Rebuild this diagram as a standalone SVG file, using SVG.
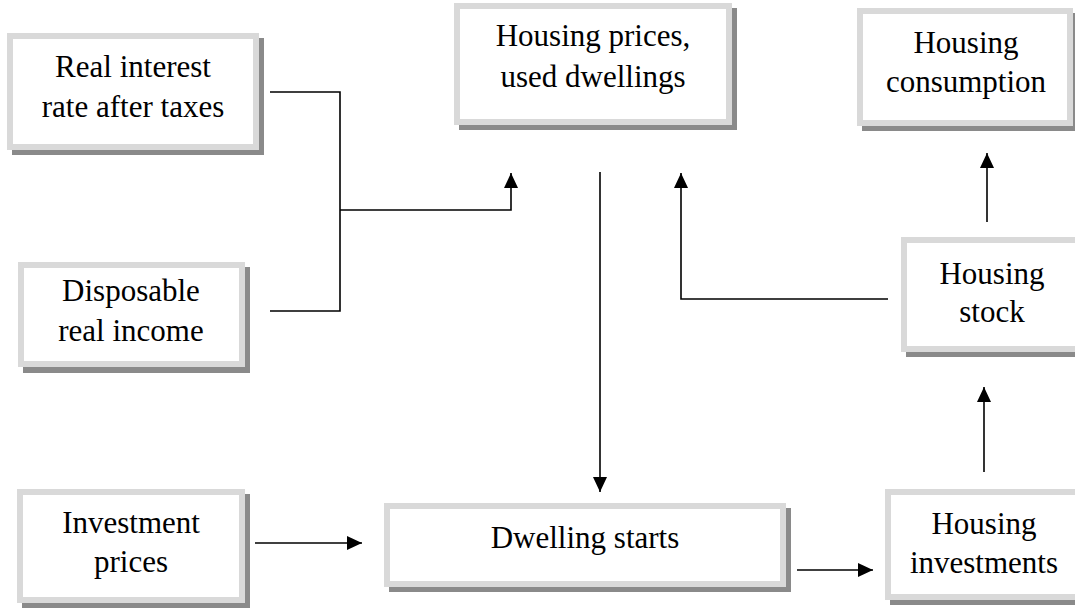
<svg xmlns="http://www.w3.org/2000/svg" width="1075" height="609" viewBox="0 0 1075 609">
<defs>
<style>
.sh{fill:#8a8a8a}
.bx{fill:#fff;stroke:#d9d9d9;stroke-width:6}
.t{font-family:"Liberation Serif","Times New Roman",serif;font-size:31px;fill:#000;text-anchor:middle}
.c{fill:none;stroke:#000;stroke-width:1.6}
</style>
<marker id="ah" markerUnits="userSpaceOnUse" markerWidth="15" markerHeight="14" refX="15" refY="7" orient="auto">
<path d="M0,0 L15,7 L0,14 z" fill="#000"/>
</marker>
</defs>
<rect width="1075" height="609" fill="#fff"/>

<g id="connectors">
<path class="c" d="M270,92 H340 V311 H270"/>
<path class="c" d="M340,210 H511 V173" marker-end="url(#ah)"/>
<path class="c" d="M600,172 V492" marker-end="url(#ah)"/>
<path class="c" d="M888,299 H681 V173" marker-end="url(#ah)"/>
<path class="c" d="M987,222 V153" marker-end="url(#ah)"/>
<path class="c" d="M984,472 V387" marker-end="url(#ah)"/>
<path class="c" d="M255,543 H362" marker-end="url(#ah)"/>
<path class="c" d="M797,570 H873" marker-end="url(#ah)"/>
</g>

<g id="real-interest">
<rect class="sh" x="12" y="38" width="252" height="117"/>
<rect class="bx" x="10" y="36" width="246" height="111"/>
<text class="t" x="133" y="77">Real interest</text>
<text class="t" x="133" y="117">rate after taxes</text>
</g>

<g id="housing-prices">
<rect class="sh" x="459" y="8" width="278" height="122"/>
<rect class="bx" x="457" y="6" width="272" height="116"/>
<text class="t" x="593" y="46">Housing prices,</text>
<text class="t" x="593" y="87">used dwellings</text>
</g>

<g id="housing-consumption">
<rect class="sh" x="862" y="13" width="216" height="118"/>
<rect class="bx" x="860" y="11" width="210" height="112"/>
<text class="t" x="966" y="53">Housing</text>
<text class="t" x="966" y="92">consumption</text>
</g>

<g id="housing-stock">
<rect class="sh" x="906" y="242" width="182" height="115"/>
<rect class="bx" x="904" y="240" width="176" height="109"/>
<text class="t" x="992" y="284">Housing</text>
<text class="t" x="992" y="322">stock</text>
</g>

<g id="disposable-income">
<rect class="sh" x="23" y="267" width="227" height="106"/>
<rect class="bx" x="21" y="265" width="221" height="99"/>
<text class="t" x="131" y="301">Disposable</text>
<text class="t" x="131" y="341">real income</text>
</g>

<g id="investment-prices">
<rect class="sh" x="22" y="494" width="228" height="114"/>
<rect class="bx" x="20" y="492" width="222" height="108"/>
<text class="t" x="131" y="533">Investment</text>
<text class="t" x="131" y="572">prices</text>
</g>

<g id="dwelling-starts">
<rect class="sh" x="389" y="508" width="402" height="84"/>
<rect class="bx" x="387" y="506" width="396" height="78"/>
<text class="t" x="585" y="548">Dwelling starts</text>
</g>

<g id="housing-investments">
<rect class="sh" x="890" y="494" width="198" height="111"/>
<rect class="bx" x="888" y="492" width="192" height="105"/>
<text class="t" x="984" y="534">Housing</text>
<text class="t" x="984" y="573">investments</text>
</g>
</svg>
